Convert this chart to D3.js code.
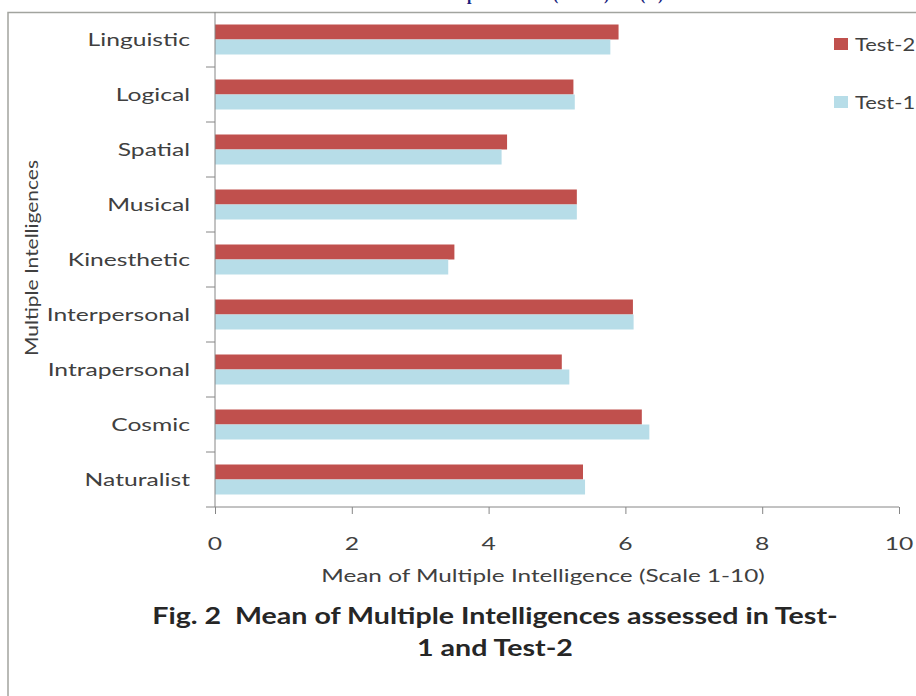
<!DOCTYPE html>
<html><head><meta charset="utf-8">
<script src="https://cdn.jsdelivr.net/npm/d3@7"></script>
<style>
html,body{margin:0;padding:0;background:#fff;}
svg{display:block;}
text{font-family:Lato,"Open Sans",sans-serif;white-space:pre;}
</style></head>
<body>
<svg id="c" width="916" height="696"></svg>
<script>
const categories = ["Linguistic","Logical","Spatial","Musical","Kinesthetic","Interpersonal","Intrapersonal","Cosmic","Naturalist"];
const seriesNames = ["Test-2","Test-1"];
const test2 = [5.90,5.24,4.27,5.29,3.50,6.11,5.07,6.24,5.38];
const test1 = [5.78,5.26,4.19,5.29,3.41,6.12,5.18,6.35,5.41];
const xTicks = [0,2,4,6,8,10];
const colors = {"Test-2":"#c0504d","Test-1":"#b7dde8"};

const svg = d3.select("#c");
const SX = 1.37; // horizontal stretch of the scanned text
const txt = (g,x,y,s,opts={}) => {
  const t = g.append("text").attr("transform",`translate(${x},${y}) scale(${opts.sx||SX},1)`)
    .attr("text-anchor",opts.anchor||"start").attr("font-size",opts.size||18)
    .attr("fill",opts.fill||"#404040").attr("xml:space","preserve").text(s);
  if(opts.weight) t.attr("font-weight",opts.weight);
  if(opts.family) t.style("font-family",opts.family);
  return t;
};

// header fragment (cut off at the top of the page, as in the scan)
const hdr = svg.append("g");
const hOpt = {sx:1,size:16,weight:"bold",fill:"#1a237e",family:"'Liberation Serif',serif"};
txt(hdr,467,0,"p",hOpt);
txt(hdr,553,0,"(",hOpt);
txt(hdr,604,0,")",hOpt);
txt(hdr,640,0,"(",hOpt);
txt(hdr,658,0,")",hOpt);

// frame
svg.append("rect").attr("x",8).attr("y",12.5).attr("width",1000).attr("height",800)
  .attr("fill","none").attr("stroke","#a2a49f").attr("stroke-width",1.5);

const x = d3.scaleLinear().domain([0,10]).range([215,899]);
const y = d3.scaleBand().domain(categories).range([12,507]).paddingInner(25/55).paddingOuter(12.5/55);
const yi = d3.scaleBand().domain(seriesNames).range([0,y.bandwidth()]);

const data = categories.map((c,i)=>({cat:c,"Test-2":test2[i],"Test-1":test1[i]}));

const g = svg.append("g");
g.selectAll("g.cat").data(data).join("g").attr("class","cat")
  .attr("transform",d=>`translate(0,${y(d.cat)})`)
  .selectAll("rect").data(d=>seriesNames.map(s=>({s,v:d[s]}))).join("rect")
  .attr("x",x(0)).attr("y",d=>yi(d.s)).attr("width",d=>x(d.v)-x(0)).attr("height",yi.bandwidth())
  .attr("fill",d=>colors[d.s]);

// x axis
const xAxis = svg.append("g").attr("transform",`translate(0,507)`)
  .call(d3.axisBottom(x).tickValues(xTicks).tickSize(7).tickFormat(""));
xAxis.select(".domain").attr("stroke","#868686").attr("d",`M${x(0)},0H${x(10)}`);
xAxis.selectAll(".tick line").attr("stroke","#868686");
xTicks.forEach(v=>txt(svg,x(v),550,String(v),{anchor:"middle",size:18}));

// y axis
const step = y.step();
const bounds = d3.range(categories.length+1).map(i=>y.range()[0]+i*step);
const yAxisG = svg.append("g");
yAxisG.append("line").attr("x1",x(0)).attr("x2",x(0)).attr("y1",12).attr("y2",507).attr("stroke","#868686");
yAxisG.selectAll("line.t").data(bounds.slice(1)).join("line").attr("class","t")
  .attr("x1",x(0)-9).attr("x2",x(0)).attr("y1",d=>d).attr("y2",d=>d).attr("stroke","#868686");
categories.forEach(c=>txt(svg,190,y(c)+y.bandwidth()/2+6,c,{anchor:"end",size:18}));

// axis titles
txt(svg,543,582,"Mean of Multiple Intelligence (Scale 1-10)",{anchor:"middle",size:18,sx:1.35});
svg.append("text").attr("transform",`translate(38,258) rotate(-90) scale(1.27,1)`)
  .attr("text-anchor","middle").attr("font-size",16.5).attr("fill","#404040").text("Multiple Intelligences");

// legend
const leg = svg.append("g");
[["Test-2",38],["Test-1",96]].forEach(([s,yy])=>{
  leg.append("rect").attr("x",834).attr("y",yy).attr("width",14).attr("height",12).attr("fill",colors[s]);
  txt(leg,855,yy+13,s,{size:18,sx:1.22});
});

// caption
txt(svg,495,624,"Fig. 2  Mean of Multiple Intelligences assessed in Test-",{anchor:"middle",size:22,weight:"bold",fill:"#262626",sx:1.3});
txt(svg,495,656,"1 and Test-2",{anchor:"middle",size:22,weight:"bold",fill:"#262626",sx:1.3});
</script>
</body></html>
